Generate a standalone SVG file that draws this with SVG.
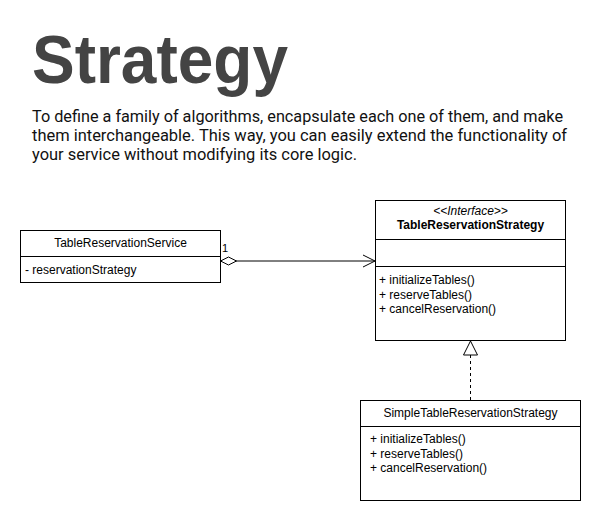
<svg xmlns="http://www.w3.org/2000/svg" width="611" height="523" viewBox="0 0 611 523">
<style>
.box{fill:#fff;stroke:#000;stroke-width:1}
.ln{stroke:#000;stroke-width:1;fill:none}
.t{font-family:"Liberation Sans",Arial,sans-serif;font-size:12px;fill:#000}
.c{text-anchor:middle}
.title{font-family:"Liberation Sans",Arial,sans-serif;font-size:68px;font-weight:bold;fill:#444}
.desc{font-family:Roboto,"Open Sans",sans-serif;font-size:16px;fill:#111}
</style>
<defs>
<marker id="diamond" markerWidth="18" markerHeight="10" refX="0.5" refY="5" orient="auto" markerUnits="userSpaceOnUse">
<path d="M0.5,5 L8.5,1 L16.5,5 L8.5,9 Z" fill="#fff" stroke="#000"/>
</marker>
<marker id="open" markerWidth="14" markerHeight="14" refX="13" refY="7" orient="auto" markerUnits="userSpaceOnUse">
<path d="M1,1 L13,7 L1,13" fill="none" stroke="#000"/>
</marker>
<marker id="tri" markerWidth="16" markerHeight="16" refX="15" refY="8" orient="auto" markerUnits="userSpaceOnUse">
<path d="M1,1 L15,8 L1,15 Z" fill="#fff" stroke="#000"/>
</marker>
</defs>
<rect width="611" height="523" fill="#fff"/>
<text class="title" x="32" y="83" textLength="256" lengthAdjust="spacingAndGlyphs">Strategy</text>
<g class="desc">
<text x="32" y="122" textLength="531" lengthAdjust="spacingAndGlyphs">To define a family of algorithms, encapsulate each one of them, and make</text>
<text x="32" y="141" textLength="535" lengthAdjust="spacingAndGlyphs">them interchangeable. This way, you can easily extend the functionality of</text>
<text x="32" y="160" textLength="325" lengthAdjust="spacingAndGlyphs">your service without modifying its core logic.</text>
</g>
<g id="connectors">
<line class="ln" x1="220.5" y1="261" x2="375" y2="261" marker-start="url(#diamond)" marker-end="url(#open)"/>
<text class="t" x="222" y="252" style="font-size:11px">1</text>
<line class="ln" x1="470.5" y1="400" x2="470.5" y2="341" stroke-dasharray="3,3" marker-end="url(#tri)"/>
</g>
<g id="TableReservationService">
<rect class="box" x="20.5" y="230.5" width="200" height="52"/>
<line class="ln" x1="20.5" y1="256.5" x2="220.5" y2="256.5"/>
<text class="t c" x="120.5" y="247">TableReservationService</text>
<text class="t" x="25" y="274">- reservationStrategy</text>
</g>
<g id="TableReservationStrategy">
<rect class="box" x="375.5" y="200.5" width="190" height="140"/>
<line class="ln" x1="375.5" y1="239.5" x2="565.5" y2="239.5"/>
<line class="ln" x1="375.5" y1="266.5" x2="565.5" y2="266.5"/>
<text class="t c" x="470.5" y="215" style="font-style:italic">&lt;&lt;Interface&gt;&gt;</text>
<text class="t c" x="470.5" y="229" style="font-weight:bold">TableReservationStrategy</text>
<text class="t" x="379" y="284">+ initializeTables()</text>
<text class="t" x="379" y="299">+ reserveTables()</text>
<text class="t" x="379" y="313">+ cancelReservation()</text>
</g>
<g id="SimpleTableReservationStrategy">
<rect class="box" x="360.5" y="400.5" width="220" height="100"/>
<line class="ln" x1="360.5" y1="426.5" x2="580.5" y2="426.5"/>
<text class="t c" x="470.5" y="417">SimpleTableReservationStrategy</text>
<text class="t" x="370" y="443">+ initializeTables()</text>
<text class="t" x="370" y="458">+ reserveTables()</text>
<text class="t" x="370" y="472">+ cancelReservation()</text>
</g>
</svg>
